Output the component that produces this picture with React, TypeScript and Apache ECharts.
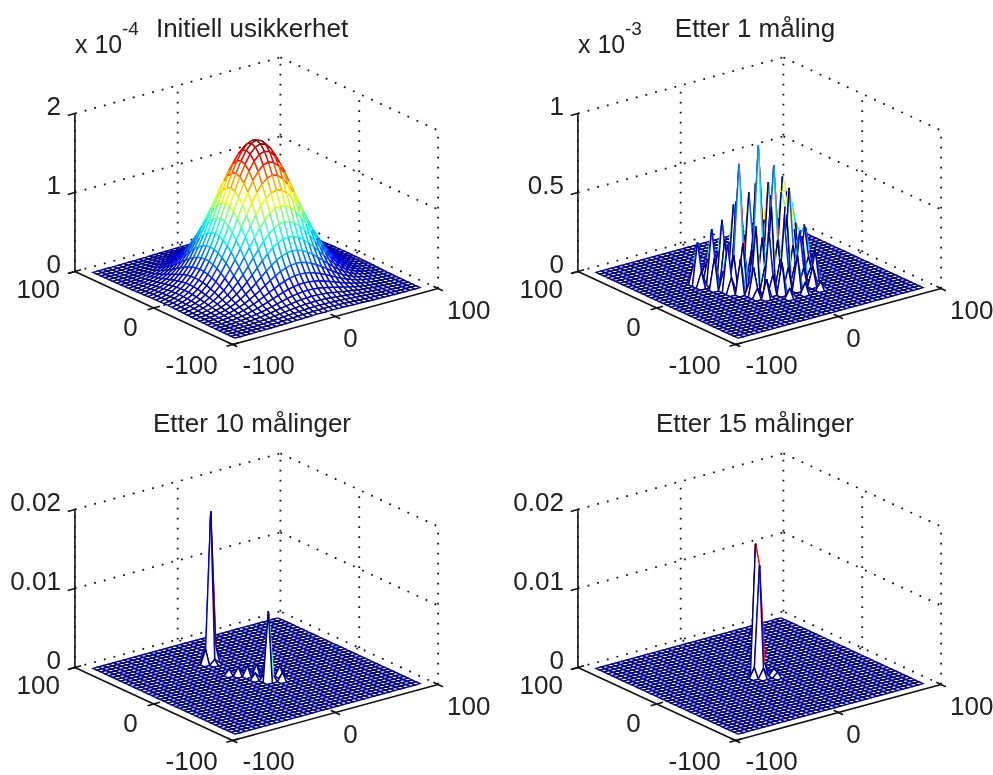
import React, { useEffect, useRef } from "react";
import * as echarts from "echarts";

const titles = ["Initiell usikkerhet", "Etter 1 måling", "Etter 10 målinger", "Etter 15 målinger"];
const exponents = ["-4", "-3", "", ""];
const zTickValues = [[0, 1e-4, 2e-4], [0, 0.5e-3, 1e-3], [0, 0.01, 0.02], [0, 0.01, 0.02]];
const zTickLabels = [["0", "1", "2"], ["0", "0.5", "1"], ["0", "0.01", "0.02"], ["0", "0.01", "0.02"]];
const xyTickLabels = ["-100", "0", "100"];
const gridCoords = [-90, -85, -80, -75, -70, -65, -60, -55, -50, -45, -40, -35, -30, -25, -20, -15, -10, -5, 0, 5, 10, 15, 20, 25, 30, 35, 40, 45, 50, 55, 60, 65, 70, 75, 80, 85, 90];

// quadrant of the first surface, unit 1e-7, mirrored about the centre
const initialQuadrant = [
  [1770, 1745, 1674, 1561, 1418, 1251, 1074, 896, 727, 575, 441, 329, 239, 169, 116, 78, 51, 32, 20],
  [1745, 1721, 1651, 1539, 1398, 1233, 1059, 883, 717, 567, 435, 324, 236, 167, 114, 77, 50, 32, 20],
  [1674, 1651, 1584, 1477, 1341, 1183, 1016, 848, 688, 544, 417, 311, 226, 160, 110, 74, 48, 30, 19],
  [1561, 1539, 1477, 1377, 1251, 1103, 947, 790, 641, 507, 389, 290, 211, 149, 102, 69, 45, 28, 18],
  [1418, 1398, 1341, 1250, 1136, 1002, 860, 718, 582, 461, 353, 264, 191, 135, 93, 62, 41, 26, 16],
  [1251, 1233, 1183, 1104, 1002, 884, 759, 633, 514, 407, 312, 233, 169, 119, 82, 55, 36, 23, 14],
  [1074, 1059, 1016, 948, 860, 759, 652, 544, 441, 349, 268, 200, 145, 103, 70, 47, 31, 19, 12],
  [896, 883, 848, 790, 718, 633, 544, 453, 368, 291, 223, 166, 121, 86, 59, 39, 26, 16, 10],
  [727, 717, 688, 641, 582, 514, 441, 368, 299, 236, 181, 135, 98, 69, 48, 32, 21, 13, 8],
  [575, 567, 544, 507, 461, 407, 349, 291, 236, 187, 143, 107, 78, 55, 38, 25, 17, 10, 6],
  [441, 435, 417, 389, 353, 312, 268, 223, 181, 143, 110, 82, 60, 42, 29, 19, 13, 8, 5],
  [329, 324, 311, 290, 264, 233, 200, 166, 135, 107, 82, 61, 44, 31, 22, 15, 9, 6, 4],
  [239, 236, 226, 211, 191, 169, 145, 121, 98, 78, 60, 44, 32, 23, 16, 11, 7, 4, 3],
  [169, 167, 160, 149, 135, 119, 103, 86, 69, 55, 42, 31, 23, 16, 11, 7, 5, 3, 2],
  [116, 114, 110, 102, 93, 82, 70, 59, 48, 38, 29, 22, 16, 11, 8, 5, 3, 2, 1],
  [78, 77, 74, 69, 62, 55, 47, 39, 32, 25, 19, 15, 11, 7, 5, 3, 2, 1, 1],
  [51, 50, 48, 45, 41, 36, 31, 26, 21, 17, 13, 9, 7, 5, 3, 2, 1, 1, 1],
  [32, 32, 30, 28, 26, 23, 19, 16, 13, 10, 8, 6, 4, 3, 2, 1, 1, 1, 0],
  [20, 20, 19, 18, 16, 14, 12, 10, 8, 6, 5, 4, 3, 2, 1, 1, 1, 0, 0],
];

// sparse cells: [x index, y index, height]; everything else is flat
const afterOne = [
  [9, 22, 0.27e-3], [9, 23, 0.12e-3], [9, 21, 0.1e-3],
  [11, 21, 0.35e-3], [11, 22, 0.15e-3], [11, 20, 0.12e-3], [11, 17, 0.3e-3], [11, 16, 0.1e-3], [11, 18, 0.12e-3],
  [13, 21, 0.39e-3], [13, 22, 0.18e-3], [13, 20, 0.14e-3], [13, 13, 0.18e-3], [13, 14, 0.08e-3], [13, 12, 0.06e-3],
  [14, 18, 0.77e-3], [14, 19, 0.3e-3], [14, 17, 0.28e-3], [15, 18, 0.22e-3], [13, 18, 0.2e-3],
  [16, 22, 0.45e-3], [16, 23, 0.2e-3], [16, 21, 0.17e-3], [16, 13, 0.38e-3], [16, 14, 0.15e-3], [16, 12, 0.12e-3],
  [17, 17, 0.87e-3], [17, 18, 0.35e-3], [17, 16, 0.3e-3], [18, 17, 0.25e-3], [16, 17, 0.22e-3], [17, 9, 0.06e-3],
  [19, 22, 0.5e-3], [19, 23, 0.22e-3], [19, 21, 0.2e-3], [19, 13, 0.42e-3], [19, 14, 0.17e-3], [19, 12, 0.14e-3],
  [20, 17, 0.72e-3], [20, 18, 0.3e-3], [20, 16, 0.26e-3], [21, 17, 0.2e-3], [19, 17, 0.2e-3], [20, 9, 0.07e-3],
  [22, 21, 0.55e-3], [22, 22, 0.3e-3], [22, 20, 0.25e-3], [22, 13, 0.33e-3], [22, 14, 0.13e-3], [22, 12, 0.11e-3],
  [23, 17, 0.55e-3], [23, 18, 0.42e-3], [23, 16, 0.2e-3], [24, 17, 0.28e-3], [23, 19, 0.5e-3], [24, 20, 0.58e-3],
  [24, 19, 0.5e-3], [24, 21, 0.3e-3], [25, 20, 0.35e-3], [25, 19, 0.42e-3], [25, 18, 0.3e-3],
  [25, 13, 0.18e-3], [25, 14, 0.07e-3], [26, 17, 0.28e-3], [26, 18, 0.22e-3], [26, 16, 0.1e-3], [27, 18, 0.25e-3],
  [27, 17, 0.12e-3], [23, 9, 0.05e-3],
  [12, 15, 0.22e-3], [15, 15, 0.4e-3], [18, 15, 0.5e-3], [21, 15, 0.42e-3], [24, 15, 0.26e-3],
  [14, 11, 0.12e-3], [17, 11, 0.2e-3], [20, 11, 0.22e-3], [23, 11, 0.12e-3],
  [10, 19, 0.2e-3], [12, 19, 0.3e-3], [15, 20, 0.5e-3], [18, 19, 0.6e-3], [21, 19, 0.5e-3],
  [12, 24, 0.08e-3], [15, 24, 0.15e-3], [18, 24, 0.2e-3], [21, 24, 0.2e-3],
];
const afterTen = [
  [16, 27, 0.0191], [17, 27, 0.0018], [15, 27, 0.0018], [16, 28, 0.0012], [16, 26, 0.0006],
  [18, 15, 0.0089], [19, 15, 0.0006], [18, 16, 0.0008],
  [17, 19, 0.0012], [18, 18, 0.0015], [19, 17, 0.0018], [16, 20, 0.001], [20, 18, 0.001], [21, 16, 0.0012], [20, 14, 0.001], [15, 21, 0.0007], [17, 17, 0.0008],
];
const afterFifteen = [
  [18, 19, 0.0165], [18, 18, 0.014], [19, 18, 0.0015], [17, 18, 0.0012], [18, 17, 0.0012],
  [19, 19, 0.0012], [20, 17, 0.0008], [20, 16, 0.0006],
];

const N = gridCoords.length;
const mirror = (i: number) => Math.abs(i - 18);
const surfaces: number[][][] = [
  gridCoords.map((_, a) => gridCoords.map((_, b) => initialQuadrant[mirror(a)][mirror(b)] * 1e-7)),
];
[afterOne, afterTen, afterFifteen].forEach((cells) => {
  const m = gridCoords.map(() => gridCoords.map(() => 0));
  cells.forEach(([a, b, z]) => { m[a][b] = z; });
  surfaces.push(m);
});

const jet = (t: number) => {
  const level = Math.min(63, Math.max(0, Math.floor(t * 64)));
  const v = (level + 0.5) / 64;
  const c = (d: number) => Math.round(255 * Math.max(0, Math.min(1, 1.5 - Math.abs(4 * v - d))));
  return `rgb(${c(3)},${c(2)},${c(1)})`;
};

// view az -37.5 el 30, x/y normalised to the +-100 box, z to the axis top
const COS = 0.7934, SIN = 0.6088, ZK = 1.716;
const proj = (x: number, y: number, zn: number) => [
  (x / 100) * COS - (y / 100) * SIN,
  0.5 * ((x / 100) * SIN + (y / 100) * COS) + ZK * zn,
];

const CW = 993, CH = 775;
const FONT = '"Liberation Sans", Arial, sans-serif';
const INK = "#222";
const FS = 26;
const px = [0, 503, 0, 503];
const py = [0, 0, 396, 396];

function meshSeries(p: number, zTop: number) {
  const m = surfaces[p];
  let zMax = 0;
  m.forEach((r) => r.forEach((v) => { if (v > zMax) zMax = v; }));
  const cells: number[][] = [];
  for (let s = 2 * (N - 2); s >= 0; s--) {
    for (let a = Math.min(N - 2, s); a >= 0 && s - a <= N - 2; a--) cells.push([a, s - a]);
  }
  return {
    type: "custom", xAxisIndex: p, yAxisIndex: p, z: 3, clip: false, progressive: 0, silent: true,
    data: cells,
    renderItem: (_: any, api: any) => {
      const a = api.value(0), b = api.value(1);
      const pt = (i: number, j: number) => api.coord(proj(gridCoords[i], gridCoords[j], m[i][j] / zTop));
      const c = (i: number, j: number) => jet(m[i][j] / zMax);
      const p00 = pt(a, b), p10 = pt(a + 1, b), p11 = pt(a + 1, b + 1), p01 = pt(a, b + 1);
      const c00 = c(a, b), c10 = c(a + 1, b), c01 = c(a, b + 1);
      const lw = 1.4;
      if (c00 === c10 && c00 === c01) {
        return { type: "polygon", shape: { points: [p00, p10, p11, p01] }, style: { fill: "#fff", stroke: c00, lineWidth: lw } };
      }
      const edge = (q: number[], r: number[], col: string) => ({
        type: "line", shape: { x1: q[0], y1: q[1], x2: r[0], y2: r[1] }, style: { stroke: col, lineWidth: lw },
      });
      return {
        type: "group",
        children: [
          { type: "polygon", shape: { points: [p00, p10, p11, p01] }, style: { fill: "#fff", stroke: null } },
          edge(p10, p11, c10), edge(p01, p11, c01), edge(p00, p10, c00), edge(p00, p01, c00),
        ],
      };
    },
  };
}

function frameSeries(p: number, zTop: number) {
  const ticks = zTickValues[p].map((v) => v / zTop);
  const line = (api: any, A: number[], B: number[], style: any) => {
    const q = api.coord(proj(A[0], A[1], A[2])), r = api.coord(proj(B[0], B[1], B[2]));
    return { type: "line", shape: { x1: q[0], y1: q[1], x2: r[0], y2: r[1] }, style };
  };
  return {
    type: "custom", xAxisIndex: p, yAxisIndex: p, z: 2, clip: false, silent: true,
    data: [[0, 0]],
    renderItem: (_: any, api: any) => {
      const dot = { stroke: "#111", lineWidth: 1.8, lineDash: [1.8, 8.2] };
      const children: any[] = [];
      // wall verticals, the back corner only once
      [-100, 0, 100].forEach((v) => children.push(line(api, [100, v, 0], [100, v, 1], dot)));
      [-100, 0].forEach((v) => children.push(line(api, [v, 100, 0], [v, 100, 1], dot)));
      [0, 100].forEach((v) => {
        children.push(line(api, [v, -100, 0], [v, 100, 0], dot));
        children.push(line(api, [-100, v, 0], [100, v, 0], dot));
      });
      ticks.slice(1).forEach((t) => {
        children.push(line(api, [-100, 100, t], [100, 100, t], dot));
        children.push(line(api, [100, 100, t], [100, -100, t], dot));
      });
      return { type: "group", children };
    },
  };
}

function axisSeries(p: number, zTop: number) {
  const ticks = zTickValues[p].map((v) => v / zTop);
  return {
    type: "custom", xAxisIndex: p, yAxisIndex: p, z: 4, clip: false, silent: true,
    data: [[0, 0]],
    renderItem: (_: any, api: any) => {
      const solid = { stroke: "#111", lineWidth: 1.6 };
      const line = (A: number[], B: number[]) => {
        const q = api.coord(proj(A[0], A[1], A[2])), r = api.coord(proj(B[0], B[1], B[2]));
        return { type: "line", shape: { x1: q[0], y1: q[1], x2: r[0], y2: r[1] }, style: solid };
      };
      const text = (at: number[], dx: number, dy: number, s: string, align: string) => {
        const q = api.coord(proj(at[0], at[1], at[2]));
        return {
          type: "text",
          style: { text: s, x: q[0] + dx, y: q[1] + dy, fill: INK, fontSize: FS, fontFamily: FONT, align, textAlign: align, verticalAlign: "middle", textVerticalAlign: "middle" },
        };
      };
      const children: any[] = [
        line([-100, 100, 0], [-100, 100, 1]),
        line([-100, 100, 0], [-100, -100, 0]),
        line([-100, -100, 0], [100, -100, 0]),
      ];
      ticks.forEach((t, i) => {
        children.push(line([-100, 100, t], [-107, 100, t]));
        children.push(text([-100, 100, t], -14, -7, zTickLabels[p][i], "right"));
      });
      [-100, 0, 100].forEach((v, i) => {
        children.push(line([-100, v, 0], [-94, v, 0]));
        children.push(line([v, -100, 0], [v, -94, 0]));
        children.push(line([-100, v, 0], [-106, v, 0]));
        children.push(line([v, -100, 0], [v, -106, 0]));
        const yOff = [[-15, 20], [-16, 19], [-15, 18]][i];
        children.push(text([-100, v, 0], yOff[0], yOff[1], xyTickLabels[i], "right"));
        const xOff = [[10, 20], [8, 21], [9, 21]][i];
        children.push(text([v, -100, 0], xOff[0], xOff[1], xyTickLabels[i], "left"));
      });
      return { type: "group", children };
    },
  };
}

const zTops = zTickValues.map((t) => t[t.length - 1]);
const scaleX = 129.5, scaleY = 92.1;

const option: any = {
  animation: false,
  backgroundColor: "#fff",
  grid: titles.map((_, p) => ({
    left: px[p] + 256.5 - 1.5 * scaleX,
    top: py[p] + 280 - 2.6 * scaleY,
    width: 3 * scaleX,
    height: 3.4 * scaleY,
  })),
  xAxis: titles.map((_, p) => ({ type: "value", gridIndex: p, min: -1.5, max: 1.5, show: false })),
  yAxis: titles.map((_, p) => ({ type: "value", gridIndex: p, min: -0.8, max: 2.6, show: false })),
  title: titles.map((t, p) => ({
    text: t,
    padding: 0,
    left: px[p] + 252,
    top: py[p] + 28 - (p >= 2 ? 1 : 0),
    textAlign: "center",
    textVerticalAlign: "middle",
    textStyle: { color: INK, fontSize: FS, fontWeight: "normal", fontFamily: FONT },
  })),
  graphic: exponents.flatMap((e, p) =>
    e
      ? [
          { type: "text", left: px[p] + 75, top: 31, style: { text: "x 10", fill: INK, fontSize: 25, fontFamily: FONT } },
          { type: "text", left: px[p] + 122, top: 19, style: { text: e, fill: INK, fontSize: 19, fontFamily: FONT } },
        ]
      : []
  ),
  series: titles.flatMap((_, p) => [frameSeries(p, zTops[p]), meshSeries(p, zTops[p]), axisSeries(p, zTops[p])]),
};

export default function App() {
  const ref = useRef<HTMLDivElement>(null);
  useEffect(() => {
    document.body.style.margin = "0";
    const chart = echarts.init(ref.current!, undefined, { renderer: "svg" });
    chart.setOption(option);
    return () => chart.dispose();
  }, []);
  return (
    <>
      <style>{`.mesh{filter:blur(0.35px)}`}</style>
      <div className="mesh" ref={ref} style={{ width: CW, height: CH }} />
    </>
  );
}
